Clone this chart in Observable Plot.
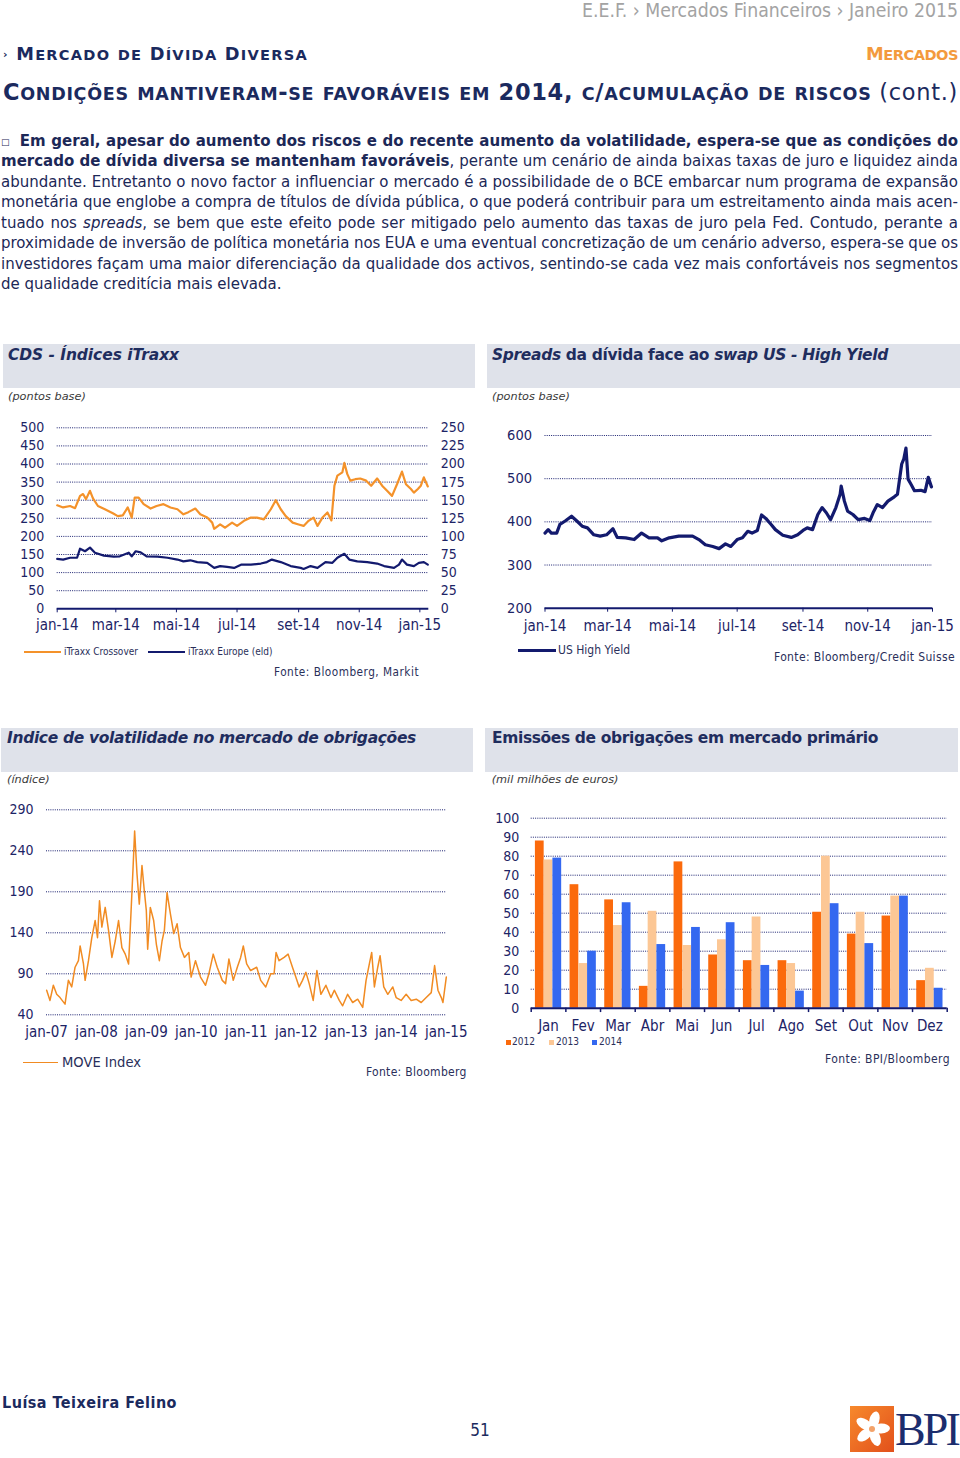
<!DOCTYPE html>
<html lang="pt"><head><meta charset="utf-8">
<script src="https://cdn.jsdelivr.net/npm/d3@7"></script>
<script src="https://cdn.jsdelivr.net/npm/@observablehq/plot@0.6"></script>
<style>
html,body{margin:0;padding:0;background:#fff}
body{position:relative;width:960px;height:1458px;overflow:hidden;font-family:"DejaVu Sans Condensed","DejaVu Sans",sans-serif;font-stretch:condensed;color:#1c2857}
.t{position:absolute;white-space:nowrap;line-height:1}
.box{position:absolute;background:#dfe2ea}
.chart{position:absolute}
.chart svg{background:transparent;overflow:visible}
</style></head><body>
<script>
// ---------------- DATA ----------------
const ptMonths = ["jan","fev","mar","abr","mai","jun","jul","ago","set","out","nov","dez"];

// CDS - iTraxx (day offsets from 1 Jan 2014)
const crossoverDays = [0,6,13,18,23,26,29,33,36,41,48,56,61,66,71,75,78,82,87,94,100,107,114,121,127,132,139,144,151,156,158,164,169,176,181,188,195,201,208,215,220,225,230,237,243,248,253,258,262,267,272,276,279,282,287,289,292,295,300,305,311,316,322,327,332,337,342,347,351,356,359,363,366,369,373];
const crossoverValues = [286,280,284,278,312,317,303,326,305,284,275,264,256,258,280,252,307,307,289,277,284,289,280,275,261,267,277,261,252,238,221,233,224,238,229,243,252,252,247,275,300,275,256,238,233,229,243,252,229,252,266,244,340,368,377,403,372,354,358,360,354,340,360,340,326,312,344,379,344,331,321,331,340,363,338];
const europeDays = [0,6,13,20,23,28,33,38,47,57,63,72,75,79,84,90,101,111,121,127,134,141,151,158,164,171,178,185,195,205,211,216,225,235,245,248,255,262,270,277,282,289,294,302,312,322,329,339,344,347,352,359,364,369,373];
const europeValues = [69,68,70.5,70.5,83,79.5,84.5,77.5,73.5,72,72.5,77.5,72.5,79.5,78,72.5,72,70.5,68,65.5,67,64.5,63.5,56.5,59,58,56.5,61,61,62.5,64.5,68,64.5,59,56.5,55,59,56.5,64.5,63.5,70.5,76,68,65.5,64.5,62.5,59,56.5,61,68,61,59,63.5,64.5,61];
const cdsLeftTicks = [0,50,100,150,200,250,300,350,400,450,500];

// US High Yield spreads (day offsets from 1 Jan 2014)
const hyDays = [0,3,6,11,14,19,25,30,35,40,46,52,58,64,68,76,84,91,98,106,110,117,126,139,145,151,158,164,170,175,181,186,191,195,200,204,208,213,217,224,232,238,243,247,252,257,261,265,269,274,278,279,282,285,290,295,301,306,309,313,318,323,329,332,336,338,340,342,345,348,354,358,361,364];
const hyValues = [374,382,374,374,394,402,413,402,390,386,370,367,370,384,364,363,359,374,363,363,356,363,367,367,359,347,343,338,349,343,359,363,378,374,380,416,408,394,382,369,364,370,380,386,382,417,433,421,405,433,464,483,448,425,417,405,408,403,421,440,433,448,458,464,534,546,571,499,486,472,473,470,503,481];
const hyTicks = [200,300,400,500,600];

// MOVE Index (decimal years)
const moveYears = [2007.003,2007.070,2007.137,2007.204,2007.271,2007.371,2007.438,2007.505,2007.572,2007.639,2007.673,2007.740,2007.773,2007.840,2007.907,2007.974,2008.021,2008.061,2008.108,2008.175,2008.242,2008.309,2008.376,2008.442,2008.509,2008.576,2008.643,2008.690,2008.730,2008.764,2008.811,2008.857,2008.911,2008.958,2008.998,2009.025,2009.078,2009.145,2009.199,2009.259,2009.313,2009.359,2009.413,2009.480,2009.547,2009.614,2009.681,2009.761,2009.848,2009.895,2009.982,2010.082,2010.183,2010.250,2010.337,2010.417,2010.518,2010.584,2010.651,2010.738,2010.819,2010.886,2010.939,2011.006,2011.086,2011.207,2011.287,2011.388,2011.488,2011.555,2011.595,2011.655,2011.756,2011.836,2011.923,2011.990,2012.057,2012.124,2012.191,2012.258,2012.338,2012.412,2012.492,2012.592,2012.693,2012.760,2012.860,2012.927,2013.027,2013.128,2013.228,2013.329,2013.396,2013.462,2013.509,2013.563,2013.630,2013.677,2013.750,2013.831,2013.931,2013.998,2014.098,2014.199,2014.299,2014.400,2014.500,2014.600,2014.701,2014.768,2014.835,2014.902,2014.935,2015.002];
const moveValues = [70,57.5,76,65,61,53,82,74,98,106,124,102,82,106,134,155,134,179,147,171,143,110,130,155,122,114,102,163,216,264,212,175,222,191,167,120,171,155,126,106,130,143,189,163,139,151,122,110,116,86,106,86,76,90,114,98,82,78,108,82,98,110,124,102,94,98,82,74,90,90,116,106,110,114,98,86,74,82,92,78,57.5,94,65,76,61,70,57.5,51,65,55,59,49,82,102,116,74,98,112,74,65,74,61,57.5,65,57.5,59,55,61,67,100,70,61,55,86];
const moveTicks = [40,90,140,190,240,290];
const moveYearTicks = [2007,2008,2009,2010,2011,2012,2013,2014,2015];

// Emissões de obrigações (mil milhões de euros)
const emMonths = ["Jan","Fev","Mar","Abr","Mai","Jun","Jul","Ago","Set","Out","Nov","Dez"];
const emYears = ["2012","2013","2014"];
const em2012 = [88,65,57,11.5,77,28,25,25,50.5,39,48.5,14.5];
const em2013 = [78,23.5,43.5,51,33,36,48,23.5,80,50.5,59,21];
const em2014 = [79,30,55.5,33.5,42.5,45,22.5,9,55,34,59,10.5];
const emTicks = [0,10,20,30,40,50,60,70,80,90,100];

const paragraphLines = [
  '<span style="font-size:9px;vertical-align:1px">&#9633;</span>&nbsp; <b>Em geral, apesar do aumento dos riscos e do recente aumento da volatilidade, espera-se que as condições do</b>',
  '<b>mercado de dívida diversa se mantenham favoráveis</b>, perante um cenário de ainda baixas taxas de juro e liquidez ainda',
  'abundante. Entretanto o novo factor a influenciar o mercado é a possibilidade de o BCE embarcar num programa de expansão',
  'monetária que englobe a compra de títulos de dívida pública, o que poderá contribuir para um estreitamento ainda mais acen-',
  'tuado nos <i>spreads</i>, se bem que este efeito pode ser mitigado pelo aumento das taxas de juro pela Fed. Contudo, perante a',
  'proximidade de inversão de política monetária nos EUA e uma eventual concretização de um cenário adverso, espera-se que os',
  'investidores façam uma maior diferenciação da qualidade dos activos, sentindo-se cada vez mais confortáveis nos segmentos',
  'de qualidade creditícia mais elevada.'
];

// ---------------- HELPERS ----------------
const NAVY = "#131a6e", TXT = "#1d2466", GRID = "#1a2070";
const ORANGE = "#f4922a", MOVEC = "#f18b22";
const EMC = ["#fb6a0c","#fcc795","#3468f0"];
const CFONT = '"DejaVu Sans Condensed","DejaVu Sans",sans-serif';
const WIDE = {fontFamily: '"DejaVu Sans",sans-serif', fontStretch: "normal"};

// manual small caps: lowercase letters -> uppercase at reduced size
function smallCaps(s, k = 0.8) {
  return s.replace(/[a-zà-öø-ÿ]+/g, m => `<span style="font-size:${k}em">${m.toUpperCase()}</span>`);
}

function txt(html, x, base, fs, css = {}, align = "left", fitW = null, mode = "letter") {
  const el = document.createElement("div");
  el.className = "t"; el.innerHTML = html;
  el.style.fontSize = fs + "px";
  el.style.left = "0px";
  Object.assign(el.style, css);
  document.body.appendChild(el);
  if (fitW != null) {
    const cur = el.getBoundingClientRect().width;
    if (mode === "letter") {
      const n = [...el.textContent].length;
      el.style.letterSpacing = ((fitW - cur) / n) + "px";
    } else if (mode === "size") {
      fs = fs * fitW / cur;
      el.style.fontSize = fs + "px";
    } else {
      const n = (el.textContent.match(/[ \u00a0]/g) || []).length;
      if (n) el.style.wordSpacing = ((fitW - cur) / n) + "px";
    }
  }
  el.style.top = (base - 0.846 * fs) + "px";
  const w = el.getBoundingClientRect().width;
  el.style.left = (align === "right" ? x - w : align === "center" ? x - w / 2 : x) + "px";
  return el;
}
function box(x, y, w, h) {
  const el = document.createElement("div");
  el.className = "box";
  Object.assign(el.style, {left: x + "px", top: y + "px", width: w + "px", height: h + "px"});
  document.body.appendChild(el);
}
function place(svg, x, y) {
  const d = document.createElement("div");
  d.className = "chart"; d.style.left = x + "px"; d.style.top = y + "px";
  d.appendChild(svg); document.body.appendChild(d);
}
function legendLine(x1, x2, y, color, w) {
  const el = document.createElement("div");
  Object.assign(el.style, {position: "absolute", left: x1 + "px", top: (y - w / 2) + "px", width: (x2 - x1) + "px", height: w + "px", background: color});
  document.body.appendChild(el);
}
function legendSquare(x, y, s, color) {
  const el = document.createElement("div");
  Object.assign(el.style, {position: "absolute", left: x + "px", top: y + "px", width: s + "px", height: s + "px", background: color});
  document.body.appendChild(el);
}
const day0 = Date.UTC(2014, 0, 1);
const toDate = d => new Date(day0 + d * 864e5);
const fmtMonth = d => ptMonths[d.getUTCMonth()] + "-" + String(d.getUTCFullYear()).slice(2);
const monthTicks = [0, 2, 4, 6, 8, 10, 12].map(m => new Date(Date.UTC(2014, m, 1)));
const plotStyle = {fontFamily: CFONT, fontSize: "14px", color: TXT, background: "transparent", overflow: "visible"};
const dotted = {stroke: GRID, strokeOpacity: 1, strokeDasharray: "1,1.2", strokeWidth: 1};
const titleCss = {...WIDE, fontWeight: "bold", color: "#1f2d5e"};
const subCss = {...WIDE, fontStyle: "italic", color: "#3a3a3a"};

// ---------------- PAGE HEADER ----------------
txt("E.E.F. &rsaquo; Mercados Financeiros &rsaquo; Janeiro 2015", 958, 17, 16, {color: "#a3a3a3"}, "right", 376, "size");
txt('<span style="font-size:11px;vertical-align:2px">&rsaquo;</span> ' + smallCaps("Mercado de Dívida Diversa", 0.82), 3, 60, 17.8,
  {...WIDE, fontWeight: "bold", color: "#1b2a5e"}, "left", 305);
txt(smallCaps("Mercados", 0.82), 958, 60, 17.8, {...WIDE, fontWeight: "bold", color: "#f39a3d"}, "right", 92);
txt('<b>' + smallCaps("Condições mantiveram-se favoráveis em 2014, c/acumulação de riscos", 0.78) + '</b> (cont.)',
  3, 100, 22.5, {...WIDE, color: "#1b2a5e"}, "left", 955);

// paragraph
paragraphLines.forEach((l, i) => {
  const last = i === paragraphLines.length - 1;
  txt(l, 1, 146.5 + i * 20.5, 15, {...WIDE, color: "#1c2857"}, "left", last ? null : 957, "word");
});

// ---------------- CHART 1 : CDS ----------------
box(3, 344, 472, 44);
txt("<i>CDS - Índices iTraxx</i>", 8, 360.7, 15.5, titleCss, "left", 171);
txt("(pontos base)", 8, 400.7, 11.3, subCss);
{
  const cross = crossoverDays.map((d, i) => ({date: toDate(d), v: crossoverValues[i]}));
  const euro = europeDays.map((d, i) => ({date: toDate(d), v: europeValues[i]}));
  const svg = Plot.plot({
    width: 475, height: 225, marginLeft: 56.7, marginRight: 46.7, marginTop: 12.3, marginBottom: 31.7,
    x: {type: "utc", domain: [toDate(0), toDate(374)], label: null},
    y: {domain: [0, 500], label: null},
    style: plotStyle,
    marks: [
      Plot.gridY(cdsLeftTicks.filter(d => d > 0), dotted),
      Plot.axisY(cdsLeftTicks, {anchor: "left", tickSize: 0, tickPadding: 13, fontSize: 14, label: null}),
      Plot.axisY(cdsLeftTicks, {anchor: "right", tickSize: 0, tickPadding: 12, fontSize: 14, label: null, tickFormat: d => d / 2}),
      Plot.axisX(monthTicks, {tickSize: 4, tickPadding: 7, fontSize: 15, stroke: NAVY, label: null, tickFormat: fmtMonth}),
      Plot.ruleY([0], {stroke: NAVY, strokeWidth: 2}),
      Plot.lineY(cross, {x: "date", y: "v", stroke: ORANGE, strokeWidth: 2.2}),
      Plot.lineY(euro, {x: "date", y: d => d.v * 2, stroke: NAVY, strokeWidth: 2.2})
    ]
  });
  place(svg, 0, 415);
}
legendLine(24, 61, 651.5, ORANGE, 2);
txt("iTraxx Crossover", 64, 655, 10, {color: "#2a2f5a"});
legendLine(148, 185, 651.5, NAVY, 2);
txt("iTraxx Europe (eld)", 188, 655, 10, {color: "#2a2f5a"});
txt("Fonte: Bloomberg, Markit", 419, 676.7, 11.7, {color: "#2a2f5a"}, "right", 145);

// ---------------- CHART 2 : US HIGH YIELD ----------------
box(487, 344, 473, 44);
txt('<i>Spreads</i> da dívida face ao <i>swap US - High Yield</i>', 492, 360.7, 15.5, titleCss, "left", 396);
txt("(pontos base)", 492, 400.7, 11.3, subCss);
{
  const hy = hyDays.map((d, i) => ({date: toDate(d), v: hyValues[i]}));
  const svg = Plot.plot({
    width: 480, height: 225, marginLeft: 64.5, marginRight: 28, marginTop: 20, marginBottom: 32.3,
    x: {type: "utc", domain: [toDate(0), toDate(365)], label: null},
    y: {domain: [200, 600], label: null},
    style: plotStyle,
    marks: [
      Plot.gridY(hyTicks.filter(d => d > 200), dotted),
      Plot.axisY(hyTicks, {anchor: "left", tickSize: 0, tickPadding: 13, fontSize: 14.5, label: null}),
      Plot.axisX(monthTicks, {tickSize: 4, tickPadding: 8, fontSize: 15, stroke: NAVY, label: null, tickFormat: fmtMonth}),
      Plot.ruleY([200], {stroke: NAVY, strokeWidth: 2}),
      Plot.lineY(hy, {x: "date", y: "v", stroke: NAVY, strokeWidth: 3.2})
    ]
  });
  place(svg, 480, 415);
}
legendLine(518, 556, 650, NAVY, 3);
txt("US High Yield", 558, 654, 12, {color: "#2a2f5a"});
txt("Fonte: Bloomberg/Credit Suisse", 955, 660.7, 12, {color: "#2a2f5a"}, "right", 181);

// ---------------- CHART 3 : MOVE ----------------
box(1, 728, 472, 44);
txt("<i>Indice de volatilidade no mercado de obrigações</i>", 7, 744, 15.5, titleCss, "left", 409);
txt("(índice)", 7, 784, 11.3, subCss);
{
  const mv = moveYears.map((y, i) => ({y, v: moveValues[i]}));
  const svg = Plot.plot({
    width: 475, height: 245, marginLeft: 46, marginRight: 29.3, marginTop: 14.3, marginBottom: 25.7,
    x: {domain: [2007, 2015], label: null},
    y: {domain: [40, 290], label: null},
    style: plotStyle,
    marks: [
      Plot.gridY(moveTicks, dotted),
      Plot.axisY(moveTicks, {anchor: "left", tickSize: 0, tickPadding: 13, fontSize: 14, label: null}),
      Plot.axisX(moveYearTicks, {tickSize: 0, tickPadding: 12, fontSize: 15, label: null, tickFormat: d => "jan-" + String(d).slice(2)}),
      Plot.lineY(mv, {x: "y", y: "v", stroke: MOVEC, strokeWidth: 1.5})
    ]
  });
  place(svg, 0, 795);
}
legendLine(23, 58, 1062.7, MOVEC, 1.6);
txt("MOVE Index", 62, 1067.7, 14.6, {color: "#2a2f5a"});
txt("Fonte: Bloomberg", 466.7, 1076, 12, {color: "#2a2f5a"}, "right", 100.7);

// ---------------- CHART 4 : EMISSÕES ----------------
box(485, 728, 473.3, 44);
txt("Emissões de obrigações em mercado primário", 492, 744, 15.5, titleCss, "left", 386);
txt("(mil milhões de euros)", 491.7, 784, 11.3, subCss);
{
  const W = 480, mL = 50.7, mR = 13.3;
  const bw = (W - mL - mR) / emMonths.length;
  const pad = 4.2, barW = (bw - 2 * pad) / emYears.length;
  const series = [em2012, em2013, em2014];
  const bars = series.map((s, k) => Plot.barY(emMonths.map((m, i) => ({m, v: s[i]})), {
    x: "m", y: "v", fill: EMC[k],
    insetLeft: pad + k * barW, insetRight: bw - pad - (k + 1) * barW
  }));
  const svg = Plot.plot({
    width: W, height: 240, marginLeft: mL, marginRight: mR, marginTop: 17.7, marginBottom: 32.3,
    x: {type: "band", domain: emMonths, padding: 0, round: false, label: null},
    y: {domain: [0, 100], label: null},
    style: plotStyle,
    marks: [
      Plot.gridY(emTicks.filter(d => d > 0), dotted),
      Plot.axisY(emTicks, {anchor: "left", tickSize: 0, tickPadding: 12, fontSize: 14, label: null}),
      Plot.axisX(emMonths, {tickSize: 0, tickPadding: 12, fontSize: 15, label: null}),
      ...bars,
      Plot.ruleY([0], {stroke: NAVY, strokeWidth: 2}),
      Plot.ruleX(emMonths, {x: d => d, y1: 0, y2: -2.3, dx: -bw / 2, stroke: NAVY, strokeWidth: 1.5}),
      Plot.ruleX([emMonths[emMonths.length - 1]], {x: d => d, y1: 0, y2: -2.3, dx: bw / 2, stroke: NAVY, strokeWidth: 1.5})
    ]
  });
  place(svg, 480, 800);
}
[[506, 512], [549, 556], [592, 599]].forEach(([sx, tx], k) => {
  legendSquare(sx, 1040, 5, EMC[k]);
  txt(emYears[k], tx, 1045.7, 10, {color: "#2a2f5a"});
});
txt("Fonte: BPI/Bloomberg", 950, 1063.3, 12, {color: "#2a2f5a"}, "right", 125);

// ---------------- FOOTER ----------------
txt("Luísa Teixeira Felino", 2, 1409, 16, {fontWeight: "bold", color: "#1b2a5e"}, "left", 175);
txt("51", 480, 1436, 17, {color: "#1b2a5e"}, "center");
{
  const ns = "http://www.w3.org/2000/svg";
  const d = document.createElement("div");
  Object.assign(d.style, {position: "absolute", left: "850px", top: "1406px"});
  d.innerHTML = `<svg width="44" height="46" xmlns="${ns}">
    <defs><linearGradient id="bg" x1="0" y1="0" x2="1" y2="1"><stop offset="0" stop-color="#f7892c"/><stop offset="1" stop-color="#e2501b"/></linearGradient></defs>
    <rect width="44" height="46" fill="url(#bg)"/>
    <g transform="translate(22,23)" fill="#fff">
      ${[0, 72, 144, 216, 288].map(a => `<ellipse cx="0" cy="-9" rx="5" ry="9" transform="rotate(${a + 15})"/>`).join("")}
      <circle r="3" fill="#f3a26a"/>
    </g></svg>`;
  document.body.appendChild(d);
}
txt("BPI", 895, 1446, 46, {fontFamily: '"Liberation Serif",serif', fontStretch: "normal", color: "#1c2d6e"}, "left", 63);
</script>
</body></html>
